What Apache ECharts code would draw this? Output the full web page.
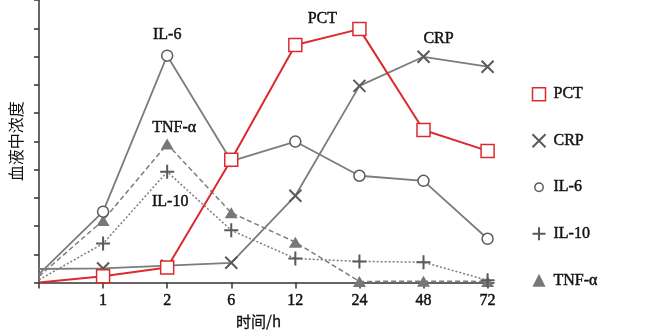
<!DOCTYPE html>
<html>
<head>
<meta charset="utf-8">
<script src="https://cdn.jsdelivr.net/npm/echarts@6/dist/echarts.min.js"></script>
<style>html,body{margin:0;padding:0;background:#fff}#c{width:665px;height:334px}</style>
</head>
<body>
<div id="c"></div>
<script>
const categories = ['', '1', '2', '6', '12', '24', '48', '72'];
const pct  = [0, 0.22, 0.53, 4.35, 8.41, 8.97, 5.4, 4.66];
const crp  = [0.48, 0.5, 0.6, 0.7, 3.07, 6.96, 7.99, 7.64];
const il6  = [0.3, 2.51, 8.03, 4.3, 4.99, 3.78, 3.6, 1.55];
const il10 = [0.1, 1.38, 3.92, 1.85, 0.85, 0.75, 0.72, 0.08];
const tnf  = [0.22, 2.2, 4.9, 2.47, 1.43, 0.04, 0.05, 0.04];
const seriesNames = ['PCT', 'CRP', 'IL-6', 'IL-10', 'TNF-α'];

const SERIF = 'Liberation Serif';
const RED = '#dc2a2e';
const GREY = '#7c7c7c';
const MARK = '#5a5a5a';
const X_PATH = 'path://M0,0L10,10M10,0L0,10';
const PLUS_PATH = 'path://M5,0L5,10M0,5L10,5';
const SMALL_CIRCLE = 'path://M0,0M14,14M2.5,7A4.5,4.5 0 1,1 11.5,7A4.5,4.5 0 1,1 2.5,7Z';
const TXT = { color: '#111', textBorderColor: '#111', textBorderWidth: 0.45 };

function build(arr, labelIdx, labelText, offset) {
  return arr.map((v, i) => {
    const d = { value: [i, v] };
    if (i === 0) d.symbol = 'none';
    if (i === labelIdx) {
      d.label = Object.assign({ show: true, formatter: labelText, position: 'inside', offset: offset,
        fontFamily: SERIF, fontSize: 16 }, TXT);
    }
    return d;
  });
}

const chart = echarts.init(document.getElementById('c'));
chart.setOption({
  animation: false,
  grid: { left: 38, right: 171, top: 0, bottom: 51, containLabel: false },
  xAxis: {
    type: 'value', min: 0, max: 7.1, interval: 1,
    name: '时间/h', nameLocation: 'middle', nameGap: 30,
    nameTextStyle: Object.assign({ fontFamily: 'Noto Sans CJK SC', fontSize: 15, padding: [0, 16, 0, 0] }, TXT, { textBorderWidth: 0.3 }),
    axisLine: { show: true, lineStyle: { color: '#333', width: 1.5 } },
    axisTick: { show: true, inside: false, length: 6, customValues: [0, 1, 2, 3, 4, 5, 6, 7], lineStyle: { color: '#333', width: 1.5 } },
    axisLabel: Object.assign({ customValues: [1, 2, 3, 4, 5, 6, 7], margin: 10, fontFamily: SERIF, fontSize: 16,
      formatter: v => categories[Math.round(v)] || '' }, TXT),
    splitLine: { show: false }
  },
  yAxis: {
    type: 'value', min: 0, max: 10, interval: 1,
    name: '血液中浓度', nameLocation: 'middle', nameGap: 15,
    nameTextStyle: { fontFamily: 'Noto Sans CJK SC', fontSize: 16, color: '#111' },
    axisLine: { show: true, lineStyle: { color: '#333', width: 1.5 } },
    axisTick: { show: true, inside: false, length: 5, lineStyle: { color: '#333', width: 1.5 } },
    axisLabel: { show: false },
    splitLine: { show: false }
  },
  legend: {
    orient: 'vertical', left: 525, top: 81, itemWidth: 13, itemHeight: 13, itemGap: 29.3,
    textStyle: Object.assign({ fontFamily: SERIF, fontSize: 16, padding: [0, 0, 0, 3] }, TXT),
    data: [
      { name: 'PCT', icon: 'rect', itemStyle: { color: '#fff', borderColor: RED, borderWidth: 1.5 } },
      { name: 'CRP', icon: X_PATH, itemStyle: { color: 'none', borderColor: MARK, borderWidth: 2 } },
      { name: 'IL-6', icon: SMALL_CIRCLE, itemStyle: { color: '#fff', borderColor: MARK, borderWidth: 1.5 } },
      { name: 'IL-10', icon: PLUS_PATH, itemStyle: { color: 'none', borderColor: MARK, borderWidth: 2 } },
      { name: 'TNF-α', icon: 'triangle', itemStyle: { color: '#777', borderWidth: 0 } }
    ]
  },
  series: [
    { name: 'TNF-α', type: 'line', z: 2, data: build(tnf, 2, 'TNF-α', [7, -16]),
      symbol: 'triangle', symbolSize: [13, 11], showAllSymbol: true,
      lineStyle: { color: GREY, width: 1.5, type: [5, 3] },
      itemStyle: { color: '#777', borderWidth: 0 } },
    { name: 'IL-10', type: 'line', z: 3, data: build(il10, 2, 'IL-10', [3, 30]),
      symbol: PLUS_PATH, symbolSize: 14, showAllSymbol: true,
      lineStyle: { color: GREY, width: 1.5, type: [2, 2] },
      itemStyle: { color: 'none', borderColor: MARK, borderWidth: 2 } },
    { name: 'IL-6', type: 'line', z: 4, data: build(il6, 2, 'IL-6', [0, -21]),
      symbol: 'circle', symbolSize: 11, showAllSymbol: true,
      lineStyle: { color: GREY, width: 1.8 },
      itemStyle: { color: '#fff', borderColor: MARK, borderWidth: 1.5 } },
    { name: 'CRP', type: 'line', z: 5, data: build(crp, 6, 'CRP', [15, -18]),
      symbol: X_PATH, symbolSize: 12, showAllSymbol: true,
      lineStyle: { color: GREY, width: 1.8 },
      itemStyle: { color: 'none', borderColor: MARK, borderWidth: 2 } },
    { name: 'PCT', type: 'line', z: 6, data: build(pct, 4, 'PCT', [27, -26]),
      symbol: 'rect', symbolSize: 13, showAllSymbol: true,
      lineStyle: { color: RED, width: 2 },
      itemStyle: { color: '#fff', borderColor: RED, borderWidth: 1.5 } }
  ]
});
</script>
</body>
</html>
